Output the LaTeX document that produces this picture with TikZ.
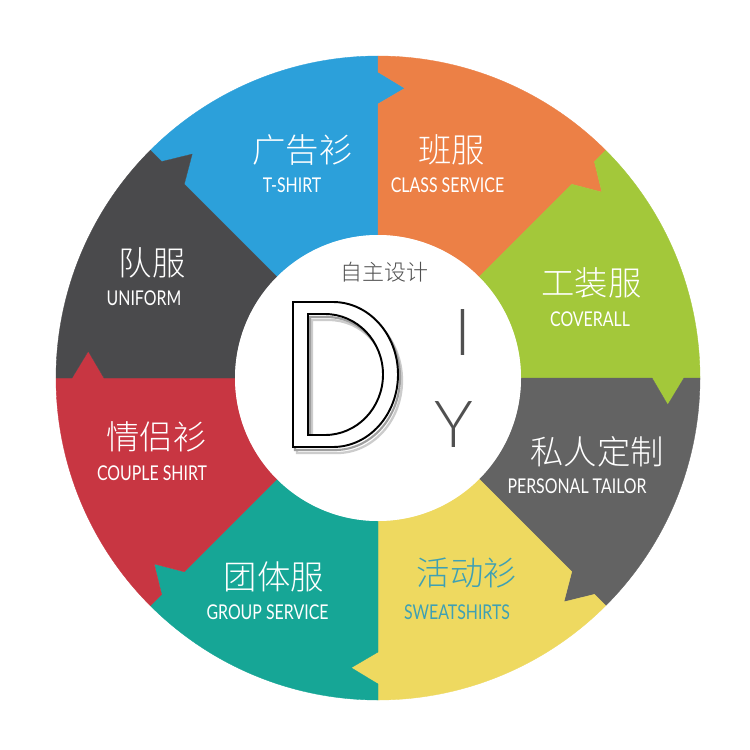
\documentclass[tikz,border=0pt]{standalone}
\usepackage{fontspec}
\IfFontExistsTF{Noto Sans CJK SC Light}{\newfontfamily\cjk{Noto Sans CJK SC Light}}{\newfontfamily\cjk{Noto Sans CJK SC}}
\newfontfamily\lat{Lato}[FakeStretch=0.78]
\newfontfamily\latbig{Lato Light}
\definecolor{cblue}{RGB}{44,160,218}
\definecolor{corange}{RGB}{236,128,70}
\definecolor{cgreen}{RGB}{163,200,58}
\definecolor{cgray}{RGB}{99,99,99}
\definecolor{cyellow}{RGB}{238,217,96}
\definecolor{cteal}{RGB}{22,166,150}
\definecolor{cred}{RGB}{200,54,66}
\definecolor{cdark}{RGB}{74,74,76}
\definecolor{ctxt}{RGB}{62,160,180}
\definecolor{ctitle}{RGB}{80,80,80}
\newcommand\Dshape[1]{\path[#1, even odd rule]
  (293,302) -- (333,302) arc[start angle=-90, end angle=90, x radius=65, y radius=72.5] -- (293,447) -- cycle
  (308,314) -- (325,314) arc[start angle=-90, end angle=90, x radius=58, y radius=60.5] -- (308,435) -- cycle;}
\begin{document}
\begin{tikzpicture}[x=0.02cm,y=-0.02cm,
  cn/.style={anchor=base, text=white, font=\cjk\fontsize{19}{19}\selectfont, inner sep=0pt},
  en/.style={anchor=base, text=white, font=\lat\fontsize{11.6}{12}\selectfont, inner sep=0pt},
  seg/.style={fill=#1, draw=#1, line width=0.2pt, line join=round}]
\useasboundingbox (0,0) rectangle (750,750);
\fill[white] (0,0) rectangle (750,750);
\begin{scope}[shift={(378,378)}, yscale=-1]
\foreach \a/\c in {135/cblue, 90/corange, 45/cgreen, 0/cgray, -45/cyellow, -90/cteal, -135/cred, 180/cdark}{
  \pgfmathsetmacro\b{\a-45}
  \path[seg=\c] (\a:143) -- (\a:274) -- ({\a-5.3}:291) -- (\a:306) -- (\a:322)
    arc[start angle=\a, end angle=\b, radius=322] -- (\b:306) -- ({\b-5.3}:291) -- (\b:274) -- (\b:143)
    arc[start angle=\b, end angle=\a, radius=143] -- cycle;
}
\end{scope}
\node[circle, fill=white, minimum size=286*0.02cm, inner sep=0pt] (hub) at (378,378) {};
% D letter
\Dshape{shift={(4,6)}, fill=white, draw=gray!40, line width=1.3pt}
\Dshape{shift={(2,3)}, fill=white, draw=gray!75, line width=1.2pt}
\Dshape{fill=white, draw=black, line width=1.1pt}
\node[anchor=base, text=ctitle, font=\cjk\fontsize{12.5}{13}\selectfont, inner sep=0pt] (title) at (384.5,280.5) {自主设计};
\node[anchor=base, text=ctitle, font=\latbig\fontsize{37}{37}\selectfont, inner sep=0pt] (li) at (463,355) {I};
\node[anchor=base, text=ctitle, font=\latbig\fontsize{37}{37}\selectfont, inner sep=0pt] (ly) at (454,447) {Y};
% labels
\node[cn] (c1) at (302.5,162.5) {广告衫};
\node[en] (e1) at (292,192) {T-SHIRT};
\node[cn] (c2) at (451.5,162.5) {班服};
\node[en] (e2) at (447.5,192) {CLASS SERVICE};
\node[cn] (c3) at (591.5,295.5) {工装服};
\node[en] (e3) at (590,326) {COVERALL};
\node[cn] (c4) at (597,464.5) {私人定制};
\node[en] (e4) at (577,493) {PERSONAL TAILOR};
\node[cn, text=ctxt] (c5) at (467,585.5) {活动衫};
\node[en, text=ctxt] (e5) at (457,619) {SWEATSHIRTS};
\node[cn] (c6) at (274,589.5) {团体服};
\node[en] (e6) at (267.5,619) {GROUP SERVICE};
\node[cn] (c7) at (156.5,449.5) {情侣衫};
\node[en] (e7) at (152,480) {COUPLE SHIRT};
\node[cn] (c8) at (152,275.5) {队服};
\node[en] (e8) at (144,305) {UNIFORM};
\end{tikzpicture}
\end{document}
